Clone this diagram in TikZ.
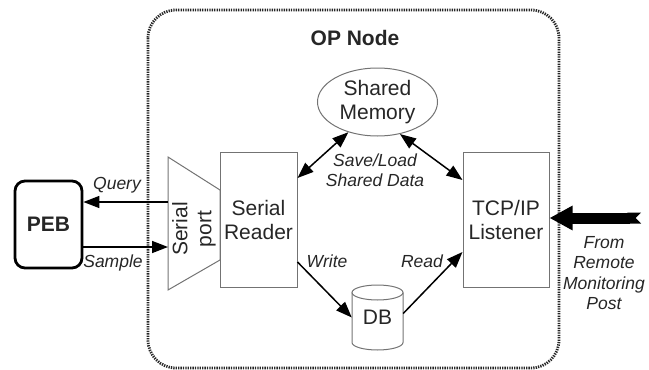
\documentclass[tikz,border=0pt]{standalone}
\usepackage{fontspec}
\setmainfont{Liberation Sans}
\usetikzlibrary{arrows.meta,shapes.geometric}
\begin{document}
\begin{tikzpicture}[x=1pt,y=-1pt,
  lbl/.style={font=\fontsize{21}{24}\selectfont, text=black!85, align=center, inner sep=0pt},
  ilbl/.style={font=\fontsize{17.5}{20.5}\selectfont\itshape, text=black!85, align=center, inner sep=0pt},
  boxn/.style={lbl, draw=black!55, line width=1pt},
  arr/.style={draw=black, line width=1.5pt, -{Triangle[length=16pt,width=12pt]}},
  darr/.style={draw=black, line width=1.5pt, {Triangle[length=16pt,width=12pt]}-{Triangle[length=16pt,width=12pt]}},
  thin/.style={draw=black!55, line width=1pt}
]
\useasboundingbox (0,0) rectangle (649,370);

% outer dotted boundary
\draw[black!85, line width=2.8pt, dash pattern=on 1.3pt off 1.1pt, rounded corners=28pt] (148,10) rectangle (559,368);
\node[lbl, font=\fontsize{21}{24}\selectfont\bfseries] (title) at (355,38) {OP Node};

% PEB
\node[lbl, draw=black, line width=2.8pt, rounded corners=10pt, minimum width=67pt, minimum height=87pt, font=\fontsize{21}{24}\selectfont\bfseries] (peb) at (48.5,224.5) {PEB};

% serial port trapezoid
\draw[thin] (168,157) -- (220,190) -- (220,260) -- (168,290) -- cycle;
\node[lbl, rotate=90] (sp) at (194,229) {Serial\\port};

% Serial Reader
\node[boxn, minimum width=77pt, minimum height=135pt] (sr) at (258.5,219.5) {Serial\\Reader};

% TCP/IP Listener
\node[boxn, minimum width=86pt, minimum height=135pt] (tcp) at (506,219.5) {TCP/IP\\Listener};

% Shared Memory
\node[lbl, ellipse, draw=black!55, line width=1pt, minimum width=120pt, minimum height=68pt, inner sep=0pt] (sm) at (377.5,102) {Shared\\Memory};

% DB cylinder
\draw[thin] (352,292.5) -- (352,342.5) arc[start angle=180, end angle=360, x radius=25.5pt, y radius=7.5pt] -- (403,292.5);
\draw[thin] (377.5,292.5) ellipse[x radius=25.5pt, y radius=7.5pt];
\node[lbl, minimum width=51pt, minimum height=65pt] (db) at (377.5,317.5) {\raisebox{-6pt}{DB}};

% PEB connectors
\coordinate (qs) at (168,202);
\coordinate (ss) at (168,247);
\draw[arr] (qs) -- (peb.east |- qs);
\draw[arr] (peb.east |- ss) -- (ss);
\node[ilbl] (query) at (117,185) {Query};
\node[ilbl] (sample) at (113,263) {Sample};

% shared memory links
\draw[darr] (sm.226) -- ([yshift=41.5pt]sr.east);
\draw[darr] (sm.305) -- ([yshift=39.5pt]tcp.west);
\node[ilbl] (save) at (375,170) {Save/Load\\Shared Data};

% DB links
\draw[arr] ([yshift=-42.5pt]sr.east) -- (db.west);
\draw[arr] ([yshift=4pt]db.east) -- ([yshift=-32.5pt]tcp.west);
\node[ilbl] (write) at (327,261) {Write};
\node[ilbl] (read) at (422,261) {Read};

% remote input
\coordinate (rmp) at (641,218);
\draw[black, line width=11pt, {Triangle Cap[reversed]}-{Triangle[length=23pt,width=23pt]}] (rmp) -- (tcp.east |- rmp);
\node[ilbl] (from) at (604,273) {From\\Remote\\Monitoring\\Post};
\end{tikzpicture}
\end{document}
